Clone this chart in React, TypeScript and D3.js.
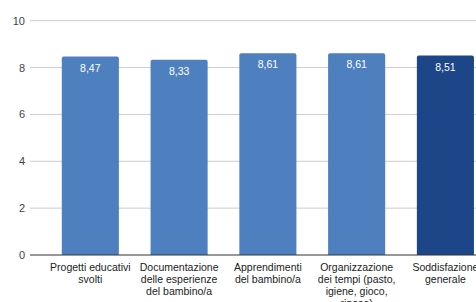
import React, { useEffect, useRef } from 'react';
import * as d3 from 'd3';

const categories = [
  ['Progetti educativi', 'svolti'],
  ['Documentazione', 'delle esperienze', 'del bambino/a'],
  ['Apprendimenti', 'del bambino/a'],
  ['Organizzazione', 'dei tempi (pasto,', 'igiene, gioco,', 'riposo)'],
  ['Soddisfazione', 'generale'],
];
const values = [8.47, 8.33, 8.61, 8.61, 8.51];
const barColors = ['#4e7fbf', '#4e7fbf', '#4e7fbf', '#4e7fbf', '#1d4689'];
const yTicks = [0, 2, 4, 6, 8, 10];

const width = 476;
const height = 302;

const App: React.FC = () => {
  const svgRef = useRef<SVGSVGElement>(null);

  useEffect(() => {
    if (!svgRef.current) return;
    const svg = d3.select(svgRef.current);
    svg.selectAll('*').remove();

    const font = 'Liberation Sans, Arial, sans-serif';
    const plotLeft = 30;
    const top = 20.7;
    const bottom = 255;

    const x = d3.scaleBand<number>()
      .domain(d3.range(values.length))
      .range([46, 46 + 88.75 * values.length])
      .paddingInner(0.357)
      .paddingOuter(0.178);

    const y = d3.scaleLinear().domain([0, 10]).range([bottom, top]);

    // gridlines
    svg.append('g')
      .selectAll('line')
      .data(yTicks.filter(t => t > 0))
      .enter()
      .append('line')
      .attr('x1', plotLeft)
      .attr('x2', width)
      .attr('y1', d => y(d))
      .attr('y2', d => y(d))
      .attr('stroke', '#cccccc')
      .attr('stroke-width', 1);

    // tick labels
    svg.append('g')
      .selectAll('text')
      .data(yTicks)
      .enter()
      .append('text')
      .attr('x', 25)
      .attr('y', d => y(d) + 4)
      .attr('text-anchor', 'end')
      .attr('font-family', font)
      .attr('font-size', 11)
      .attr('fill', '#444')
      .text(d => d);

    // bars
    const bars = svg.append('g');
    values.forEach((v, i) => {
      const x0 = x(i)!;
      const w = x.bandwidth();
      const yt = y(v);
      const r = 2;
      bars.append('path')
        .attr('d', `M${x0},${bottom}V${yt + r}Q${x0},${yt} ${x0 + r},${yt}H${x0 + w - r}Q${x0 + w},${yt} ${x0 + w},${yt + r}V${bottom}Z`)
        .attr('fill', barColors[i]);
      bars.append('text')
        .attr('x', x0 + w / 2)
        .attr('y', yt + 15)
        .attr('text-anchor', 'middle')
        .attr('font-family', font)
        .attr('font-size', 10.5)
        .attr('fill', '#ffffff')
        .text(v.toFixed(2).replace('.', ','));
    });

    // baseline
    svg.append('line')
      .attr('x1', plotLeft)
      .attr('x2', width)
      .attr('y1', bottom)
      .attr('y2', bottom)
      .attr('stroke', '#333333')
      .attr('stroke-width', 1);

    // category labels
    const labels = svg.append('g');
    categories.forEach((lines, i) => {
      const cx = x(i)! + x.bandwidth() / 2;
      const t = labels.append('text')
        .attr('text-anchor', 'middle')
        .attr('font-family', font)
        .attr('font-size', 10.5)
        .attr('fill', '#222');
      lines.forEach((ln, j) => {
        t.append('tspan')
          .attr('x', cx)
          .attr('y', 271 + j * 12)
          .text(ln);
      });
    });
  }, []);

  return (
    <div style={{ position: 'fixed', left: 0, top: 0, width, height, background: '#fff' }}>
      <svg ref={svgRef} width={width} height={height} style={{ display: 'block' }} />
    </div>
  );
};

export default App;
